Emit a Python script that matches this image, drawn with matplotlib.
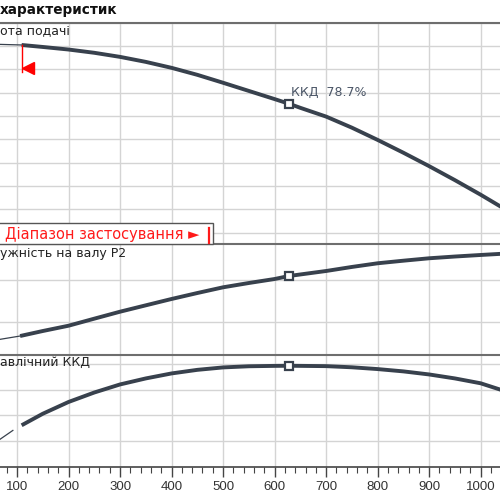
import matplotlib
matplotlib.use("Agg")
import matplotlib.pyplot as plt
from matplotlib.patches import Rectangle
from matplotlib.lines import Line2D

# flow axis (Q) values
q_thin_head = [60, 109]
h_thin = [18.15, 18.09]
q_head = [109, 150, 200, 250, 300, 350, 400, 450, 500, 550, 600, 628, 650, 700,
          750, 800, 850, 900, 950, 1000, 1040]
h_head = [18.09, 17.92, 17.7, 17.42, 17.07, 16.64, 16.13, 15.53, 14.85, 14.15, 13.45,
          13.05, 12.7, 11.95, 11.0, 9.95, 8.85, 7.7, 6.5, 5.25, 4.2]

q_thin_p2 = [60, 106]
p2_thin = [5.7, 6.64]
q_p2 = [106, 150, 200, 250, 300, 350, 400, 450, 500, 550, 600, 628, 650, 700,
        750, 800, 850, 900, 950, 1000, 1040]
p2 = [6.64, 7.84, 9.11, 10.8, 12.47, 14.0, 15.52, 16.95, 18.32, 19.35, 20.31, 21.03,
      21.4, 22.23, 23.2, 24.08, 24.7, 25.28, 25.7, 26.07, 26.35]

q_thin_eta = [60, 92]
eta_thin = [19.3, 28.2]
q_eta = [109, 150, 200, 250, 300, 350, 400, 450, 500, 550, 600, 628, 700,
         750, 800, 850, 900, 950, 1000, 1040]
eta = [32.2, 41.2, 50.4, 57.8, 64.1, 68.8, 72.7, 75.5, 77.4, 78.3, 78.6, 78.7, 78.4,
       77.5, 76.1, 74.3, 71.9, 68.8, 65.0, 59.8]

q_duty = 628
duty_h = 13.05
duty_p2 = 21.03
duty_eta = 78.7

q_min = 109
q_min_marker = 121
h_min_marker = 16.15

x_ticks = [100, 200, 300, 400, 500, 600, 700, 800, 900, 1000]

curve_col = '#38414d'
grid_col = '#d4d4d4'
spine_col = '#6e6e6e'

fig = plt.figure(figsize=(5, 5), dpi=100)

def fy(px):
    return 1 - px / 500.0

ax1 = fig.add_axes([0, fy(244.3), 1, fy(22.7) - fy(244.3)])
ax2 = fig.add_axes([0, fy(355), 1, fy(244.3) - fy(355)])
ax3 = fig.add_axes([0, fy(466.5), 1, fy(355) - fy(466.5)])

for ax in (ax1, ax2, ax3):
    ax.set_xlim(67, 1037.5)
    ax.set_xticks(x_ticks)
    ax.grid(True, color=grid_col, linewidth=1.0)
    ax.set_axisbelow(True)
    for s in ('left', 'right', 'bottom'):
        ax.spines[s].set_visible(False)
    ax.spines['top'].set_color(spine_col)
    ax.spines['top'].set_linewidth(1.5)
    ax.tick_params(axis='y', left=False, labelleft=False)
    ax.set_facecolor('white')

ax1.tick_params(axis='x', bottom=False, labelbottom=False)
ax2.tick_params(axis='x', bottom=False, labelbottom=False)

# head
ax1.set_ylim(1, 20)
ax1.set_yticks(range(2, 21, 2))
ax1.plot(q_thin_head, h_thin, color=curve_col, lw=0.9)
ax1.plot(q_head, h_head, color=curve_col, lw=2.8, solid_capstyle='butt')
ax1.plot(q_duty, duty_h, marker='s', ms=5.5, mfc='white', mec=curve_col, mew=1.6)
ax1.text(q_duty + 3, duty_h + 0.45, 'ККД  78.7%', color='#4a5566', fontsize=9,
         va='bottom', ha='left')
ax1.plot([q_min, q_min], [18.09, 15.8], color='red', lw=1.0)
ax1.plot(q_min_marker, h_min_marker, marker='<', ms=8, color='red', mec='red')

# shaft power
ax2.set_ylim(2.09, 28.63)
ax2.set_yticks([10, 20])
ax2.plot(q_thin_p2, p2_thin, color=curve_col, lw=0.9)
ax2.plot(q_p2, p2, color=curve_col, lw=2.8, solid_capstyle='butt')
ax2.plot(q_duty, duty_p2, marker='s', ms=5.5, mfc='white', mec=curve_col, mew=1.6)

# efficiency
ax3.set_ylim(0, 87.1)
ax3.set_yticks([20, 40, 60, 80])
ax3.plot(q_thin_eta, eta_thin, color=curve_col, lw=0.9)
ax3.plot(q_eta, eta, color=curve_col, lw=2.8, solid_capstyle='butt')
ax3.plot(q_duty, duty_eta, marker='s', ms=5.5, mfc='white', mec=curve_col, mew=1.6)
ax3.spines['bottom'].set_visible(True)
ax3.spines['bottom'].set_color('#444444')
ax3.spines['bottom'].set_linewidth(1.2)
ax3.set_xticks(range(80, 1040, 20), minor=True)
ax3.tick_params(axis='x', which='major', direction='out', length=7.5, width=1.0,
                color='#444444', pad=3, labelsize=9.5, labelcolor='#333333')
ax3.tick_params(axis='x', which='minor', direction='out', length=4.5, width=0.8,
                color='#444444')
for lab in ax3.get_xticklabels():
    lab.set_fontfamily('Liberation Sans')

# texts
fig.text(0.0, fy(10), 'характеристик', fontsize=9.8, fontweight='bold',
         color='#111111', va='center', ha='left')
fig.text(0.0, fy(32), 'ота подачі', fontsize=9, color='#222222', va='center', ha='left')
fig.text(0.0, fy(253.5), 'ужність на валу P2', fontsize=9, color='#222222',
         va='center', ha='left')
fig.text(0.0, fy(362.7), 'авлічний ККД', fontsize=9, color='#222222',
         va='center', ha='left')

# application range box
box = Rectangle((-0.01, fy(244.3)), 0.01 + 213 / 500, (244.3 - 223) / 500,
                transform=fig.transFigure, facecolor='white', edgecolor='#555555',
                lw=1.0, zorder=5)
fig.add_artist(box)
fig.text(5 / 500, fy(234), 'Діапазон застосування ►', color='#ff1a1a', fontsize=10.5,
         va='center', ha='left', zorder=6)
fig.add_artist(Line2D([208.5 / 500, 208.5 / 500], [fy(228), fy(243)], color='#ff1a1a',
                      lw=1.6, transform=fig.transFigure, zorder=6))

fig.savefig('out.png', dpi=100)
